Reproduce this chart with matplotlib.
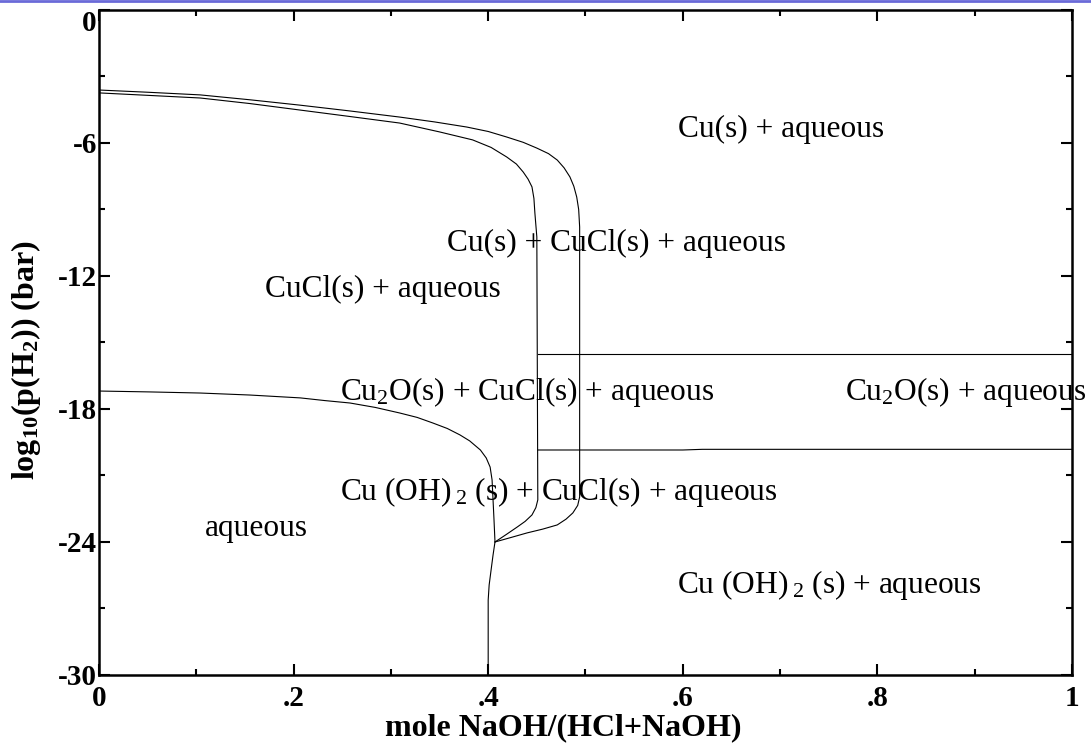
import matplotlib
matplotlib.use("Agg")
import matplotlib.pyplot as plt
from matplotlib.lines import Line2D
from matplotlib.ticker import MultipleLocator

# phase boundaries (x = mole fraction NaOH, y = log10 pH2)
outer_x = [0.0, 0.05, 0.104, 0.155, 0.206, 0.257, 0.309, 0.345, 0.378, 0.400, 0.419,
           0.436, 0.450, 0.462, 0.471, 0.478, 0.484, 0.488, 0.491, 0.493, 0.494,
           0.494, 0.492, 0.487, 0.480, 0.471, 0.456, 0.440, 0.424, 0.407]
outer_y = [-3.61, -3.71, -3.83, -4.05, -4.29, -4.55, -4.83, -5.05, -5.28, -5.48, -5.73,
           -5.97, -6.23, -6.48, -6.77, -7.12, -7.53, -7.95, -8.44, -9.0, -9.79,
           -21.97, -22.35, -22.69, -22.97, -23.23, -23.42, -23.59, -23.79, -24.0]

inner_x = [0.0, 0.05, 0.104, 0.155, 0.206, 0.257, 0.309, 0.350, 0.384, 0.403, 0.419,
           0.429, 0.436, 0.441, 0.445, 0.447, 0.448, 0.449, 0.450,
           0.451, 0.449, 0.445, 0.438, 0.430, 0.419, 0.407]
inner_y = [-3.74, -3.85, -3.97, -4.22, -4.51, -4.80, -5.10, -5.50, -5.86, -6.20, -6.63,
           -6.95, -7.31, -7.63, -7.98, -8.5, -9.16, -9.7, -10.24,
           -22.1, -22.45, -22.78, -23.07, -23.32, -23.65, -24.0]

aq_x = [0.0, 0.052, 0.104, 0.155, 0.207, 0.232, 0.258, 0.284, 0.309, 0.327, 0.343,
        0.358, 0.371, 0.381, 0.392, 0.398, 0.402, 0.404, 0.405, 0.406, 0.407,
        0.405, 0.403, 0.401, 0.400, 0.400]
aq_y = [-17.19, -17.23, -17.28, -17.37, -17.50, -17.62, -17.73, -17.93, -18.18, -18.38,
        -18.63, -18.88, -19.17, -19.44, -19.85, -20.21, -20.62, -21.20, -22.10, -23.01,
        -24.0, -24.59, -25.26, -25.94, -26.62, -30.0]

upper_h_x = [0.451, 1.0]
upper_h_y = [-15.52, -15.52]
lower_h_x = [0.451, 0.60, 0.62, 1.0]
lower_h_y = [-19.85, -19.85, -19.82, -19.82]

labels = ["Cu(s) + aqueous", "Cu(s) + CuCl(s) + aqueous", "CuCl(s) + aqueous",
          "Cu$_2$O(s) + CuCl(s) + aqueous", "Cu$_2$O(s) + aqueous",
          "Cu (OH)$\\,_2$ (s) + CuCl(s) + aqueous", "aqueous",
          "Cu (OH)$\\,_2$ (s) + aqueous"]
label_x = [0.595, 0.358, 0.171, 0.248, 0.767, 0.248, 0.109, 0.594]
label_y = [-5.41, -10.51, -12.63, -17.23, -17.23, -21.74, -23.37, -25.94]

plt.rcParams["font.family"] = "Liberation Serif"
plt.rcParams["mathtext.fontset"] = "custom"
plt.rcParams["mathtext.rm"] = "Liberation Serif"
plt.rcParams["mathtext.it"] = "Liberation Serif"
plt.rcParams["mathtext.bf"] = "Liberation Serif:bold"

fig = plt.figure(figsize=(10.91, 7.46), dpi=100)
ax = fig.add_axes([0.0907, 0.0952, 0.8919, 0.8914])

for xs, ys in [(outer_x, outer_y), (inner_x, inner_y), (aq_x, aq_y),
               (upper_h_x, upper_h_y), (lower_h_x, lower_h_y)]:
    ax.plot(xs, ys, color="black", lw=0.8)

for t, x, y in zip(labels, label_x, label_y):
    ax.text(x, y, t, fontsize=22.6, ha="left", va="center")

ax.set_xlim(0, 1)
ax.set_ylim(-30, 0)
ax.xaxis.set_minor_locator(MultipleLocator(0.1))
ax.yaxis.set_minor_locator(MultipleLocator(3))
ax.set_xticks([0, 0.2, 0.4, 0.6, 0.8, 1.0])
ax.set_xticklabels(["0", ".2", ".4", ".6", ".8", "1"])
ax.set_yticks([0, -6, -12, -18, -24, -30])
ax.set_yticklabels(["0", "-6", "-12", "-18", "-24", "-30"])
ax.tick_params(which="both", direction="in", top=True, right=True, width=1.5)
ax.tick_params(which="major", length=8, labelsize=21)
ax.tick_params(axis="x", which="major", pad=7)
ax.tick_params(axis="y", which="major", pad=1.5)
ax.tick_params(which="minor", length=4)
for lab in ax.get_xticklabels() + ax.get_yticklabels():
    lab.set_fontweight("bold")
# the top "0" sits just below the frame in the original
ax.get_yticklabels()[0].set_verticalalignment("top")
for s in ax.spines.values():
    s.set_linewidth(1.8)

ax.set_xlabel("mole NaOH/(HCl+NaOH)", fontsize=23, fontweight="bold")
ax.xaxis.set_label_coords(0.477, -0.058)
ax.set_ylabel("log$_{\\mathbf{10}}$(p(H$_{\\mathbf{2}}$)) (bar)", fontsize=23,
              fontweight="bold")
ax.yaxis.set_label_coords(-0.058, 0.474)

# thin slide border along the top edge
fig.add_artist(Line2D([0, 1], [0.998, 0.998], transform=fig.transFigure,
                      color="#6a6ad8", lw=2))

fig.savefig("out.png", dpi=100)
